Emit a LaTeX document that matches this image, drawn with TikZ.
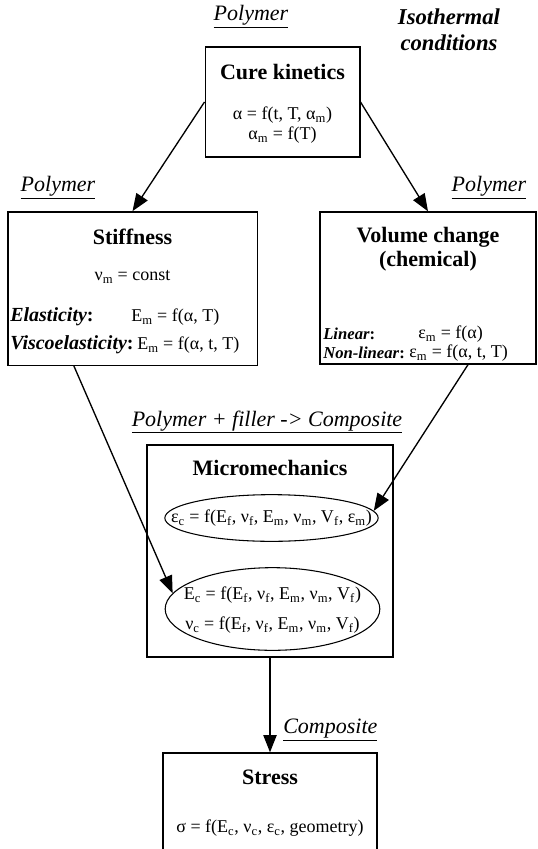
\documentclass[tikz,border=0pt]{standalone}
\usepackage{fontspec}
\setmainfont{Liberation Serif}
\usetikzlibrary{arrows.meta,shapes.geometric}
\newcommand{\ix}[1]{\textsubscript{#1}}
\tikzset{
  box/.style={draw,line width=1pt,rectangle,inner sep=0pt},
  bubble/.style={draw,line width=0.8pt,ellipse,inner sep=0pt},
  ttl/.style={inner sep=0pt,align=center,font=\fontsize{16.5}{17.5}\selectfont\bfseries},
  txt/.style={inner sep=0pt,font=\fontsize{13.5}{15}\selectfont},
  lbl/.style={inner sep=0pt,font=\fontsize{16.5}{19}\selectfont\itshape},
  flow/.style={line width=1pt,-{Triangle[length=13pt,width=10pt]}}
}
\begin{document}
\begin{tikzpicture}[x=0.75pt,y=0.75pt,yscale=-1,xscale=1]
\useasboundingbox (0,0) rectangle (537,849);

% boxes
\node[box,minimum width=116pt,minimum height=82.5pt] (cure) at (282.5,102) {};
\node[box,minimum width=187pt,minimum height=115pt] (stiff) at (132.5,288.5) {};
\node[box,minimum width=162pt,minimum height=114pt] (vol) at (428,288) {};
\node[box,minimum width=184.5pt,minimum height=159pt] (micro) at (270,551) {};
\node[box,minimum width=160.5pt,minimum height=84pt] (stress) at (270,809) {};

% labels above the boxes
\node[lbl] (lpoly) at (251,17) {\underline{Polymer}};
\node[lbl,align=center,font=\fontsize{17}{19.5}\selectfont\bfseries\itshape] (liso) at (449,30) {Isothermal\\conditions};
\node[lbl] (lpolyl) at (58,188) {\underline{Polymer}};
\node[lbl] (lpolyr) at (489,188) {\underline{Polymer}};
\node[lbl] (lfill) at (267,422) {\underline{Polymer + filler -> Composite}};
\node[lbl,anchor=west] (lcomp) at (283,730) {\underline{Composite}};

% cure kinetics
\node[ttl] (curet) at (282.5,72) {Cure kinetics};
\node[txt] (cure1) at (282.5,115) {α = f(t, T, α\ix{m})};
\node[txt] (cure2) at (282.5,135) {α\ix{m} = f(T)};

% stiffness
\node[ttl] (stifft) at (132.5,237) {Stiffness};
\node[txt] (stiff0) at (132.5,277) {ν\ix{m} = const};
\node[txt,anchor=west,font=\fontsize{15}{16}\selectfont] (stiff1) at (10,317) {\textbf{\textit{Elasticity}:}};
\node[txt,anchor=west] (stiff1f) at (131,317) {E\ix{m} = f(α, T)};
\node[txt,anchor=west,font=\fontsize{15}{16}\selectfont] (stiff2) at (10,345) {\textbf{\textit{Viscoelasticity}:}};
\node[txt,anchor=west] (stiff2f) at (137,345) {E\ix{m} = f(α, t, T)};

% volume change
\node[ttl,font=\fontsize{16.5}{18}\selectfont\bfseries] (volt) at (428,249) {Volume change\\(chemical)};
\node[txt,anchor=west,font=\fontsize{12.5}{14}\selectfont] (vol1) at (323,334) {\textbf{\textit{Linear}:}};
\node[txt,anchor=west] (vol1f) at (418,334) {ε\ix{m} = f(α)};
\node[txt,anchor=west,font=\fontsize{12.5}{14}\selectfont] (vol2) at (323,353) {\textbf{\textit{Non-linear}:}};
\node[txt,anchor=west] (vol2f) at (409,353) {ε\ix{m} = f(α, t, T)};

% micromechanics
\node[ttl] (microt) at (270,468) {Micromechanics};
\node[bubble,minimum width=160pt,minimum height=35pt] (ell1) at (271.5,518) {};
\node[txt] (ell1t) at (ell1) {ε\ix{c} = f(E\ix{f}, ν\ix{f}, E\ix{m}, ν\ix{m}, V\ix{f}, ε\ix{m})};
\node[bubble,minimum width=161pt,minimum height=62pt] (ell2) at (272.5,609) {};
\node[txt] (ell2a) at (272.5,595) {E\ix{c} = f(E\ix{f}, ν\ix{f}, E\ix{m}, ν\ix{m}, V\ix{f})};
\node[txt] (ell2b) at (272.5,625) {ν\ix{c} = f(E\ix{f}, ν\ix{f}, E\ix{m}, ν\ix{m}, V\ix{f})};

% stress
\node[ttl] (stresst) at (270,777) {Stress};
\node[txt] (stress1) at (270,828) {σ = f(E\ix{c}, ν\ix{c}, ε\ix{c}, geometry)};

% connectors
\draw[flow] (cure.west) -- (stiff.north);
\draw[flow] (cure.east) -- (vol.north);
\draw[flow] ([xshift=-44pt]stiff.south) -- (ell2.171);
\draw[flow] ([xshift=30pt]vol.south) -- (ell1.4);
\draw[flow] (micro.south) -- (stress.north);
\end{tikzpicture}
\end{document}
